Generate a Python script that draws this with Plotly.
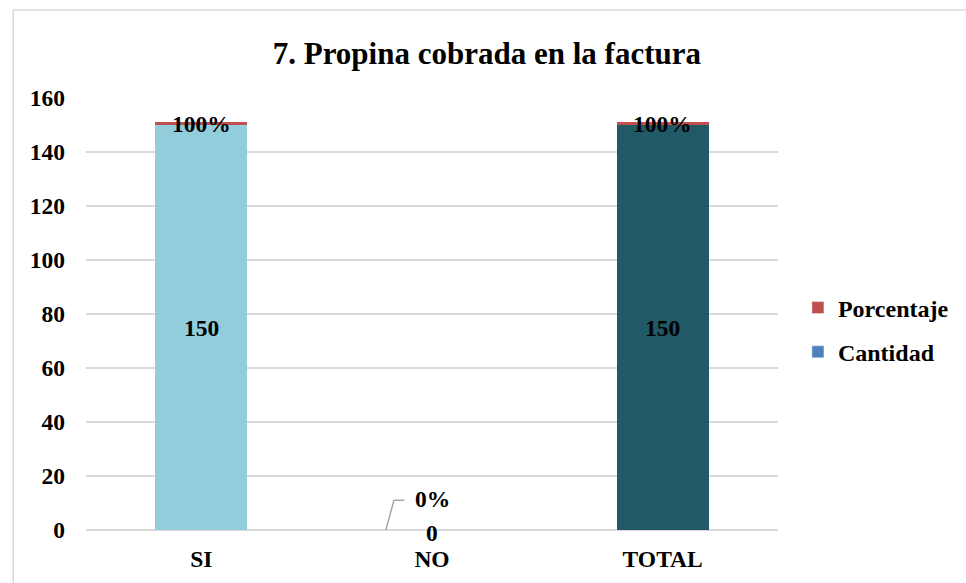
import plotly.graph_objects as go

# Survey question 7: tip charged on the invoice
categorias = ["SI", "NO", "TOTAL"]
cantidad = [150, 0, 150]
porcentaje = [1.0, 0.0, 1.0]          # share of respondents (1.0 = 100%)
y_ticks = [0, 20, 40, 60, 80, 100, 120, 140, 160]

COL_SI = "#92CDDC"
COL_TOTAL = "#215967"
COL_CANT = "#4F81BD"
COL_PORC = "#C0504D"
GRID = "#D9D9D9"
FONT = "Liberation Serif"
FS = 23.5

fig = go.Figure()

# stacked bars: quantity at the bottom, percentage segment on top
fig.add_trace(go.Bar(
    x=categorias, y=cantidad, name="Cantidad",
    marker=dict(color=[COL_SI, COL_SI, COL_TOTAL], line=dict(width=0)),
    width=0.4, showlegend=False, hoverinfo="x+y",
))
fig.add_trace(go.Bar(
    x=categorias, y=porcentaje, name="Porcentaje",
    marker=dict(color=COL_PORC, line=dict(width=0)),
    width=0.4, showlegend=False, hoverinfo="x+y",
))

# legend entries
fig.add_trace(go.Bar(x=[None], y=[None], name="Porcentaje",
                     marker_color=COL_PORC, legendgroup="p"))
fig.add_trace(go.Bar(x=[None], y=[None], name="Cantidad",
                     marker_color=COL_CANT, legendgroup="c"))

lab_font = dict(family=FONT, size=FS, color="black", weight="bold")
annotations = []
for i, (cat, c, p) in enumerate(zip(categorias, cantidad, porcentaje)):
    pct_txt = f"{p * 100:.0f}%"
    if c > 0:
        annotations.append(dict(x=cat, y=c / 2, text=f"{c}", showarrow=False,
                                font=lab_font, xref="x", yref="y"))
        annotations.append(dict(x=cat, y=c + p / 2, text=pct_txt, showarrow=False,
                                font=lab_font, xref="x", yref="y"))
    else:
        annotations.append(dict(x=cat, y=c, text=f"{c}", showarrow=False,
                                font=lab_font, xref="x", yref="y", yshift=-3))
        annotations.append(dict(x=cat, y=c + p, text=pct_txt, showarrow=False,
                                font=lab_font, xref="x", yref="y", yshift=31))

# leader line from the empty bar to its percentage label
no_idx = categorias.index("NO")
shapes = [
    dict(type="path", xref="x", yref="y",
         path=(f"M {no_idx - 0.2},{cantidad[no_idx]} "
               f"L {no_idx - 0.165},{cantidad[no_idx] + 11} "
               f"L {no_idx - 0.12},{cantidad[no_idx] + 11}"),
         line=dict(color="#A6A6A6", width=1.5)),
    # chart frame
    dict(type="rect", xref="paper", yref="paper",
         x0=(13 - 86) / 694, x1=(975 - 86) / 694,
         y0=(530 - 600) / 432, y1=(530 - 10) / 432,
         line=dict(color=GRID, width=1.5), fillcolor="rgba(0,0,0,0)", layer="below"),
]

tick_font = dict(family=FONT, size=FS, color="black", weight="bold")

fig.update_layout(
    barmode="stack",
    width=966, height=583,
    margin=dict(l=86, r=186, t=98, b=53),
    paper_bgcolor="white", plot_bgcolor="white",
    title=dict(text="7. Propina cobrada en la factura",
               x=0.504, xref="container", xanchor="center",
               y=1 - 53 / 583, yref="container", yanchor="middle",
               font=dict(family=FONT, size=31, color="black", weight="bold")),
    font=dict(family=FONT, color="black"),
    xaxis=dict(showgrid=False, showline=False, zeroline=False, ticks="",
               tickfont=tick_font, ticklabelstandoff=12),
    yaxis=dict(range=[0, 160], tickvals=y_ticks, showgrid=True, gridcolor=GRID,
               gridwidth=1.5, zeroline=True, zerolinecolor=GRID, zerolinewidth=1.5,
               showline=False, ticks="",
               tickfont=tick_font, ticklabelstandoff=20),
    legend=dict(x=(800 - 86) / 694, y=(530 - 330) / 432, xanchor="left", yanchor="middle",
                font=dict(family=FONT, size=24, color="black", weight="bold"),
                tracegroupgap=10, itemwidth=30, bgcolor="rgba(0,0,0,0)"),
    annotations=annotations,
    shapes=shapes,
    bargap=0.6,
)

fig.write_html("out.html")
